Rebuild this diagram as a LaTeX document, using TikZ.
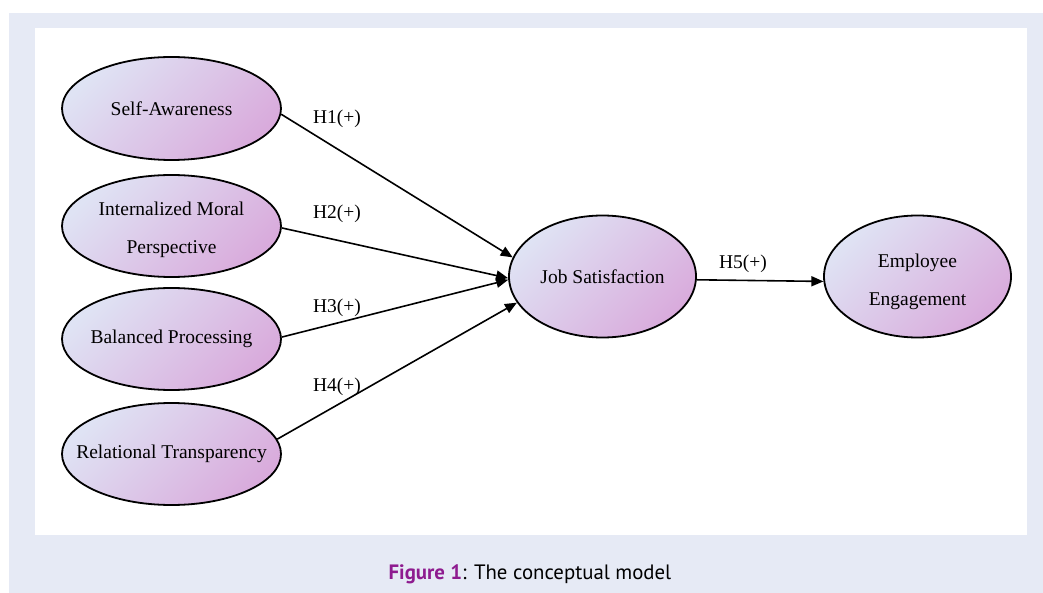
\documentclass[tikz,border=0pt]{standalone}
\usepackage{fontspec}
\setmainfont{Liberation Serif}
\newfontfamily\capfont{PT Sans}
\usetikzlibrary{shapes.geometric,arrows.meta}
\definecolor{outerbg}{HTML}{E6EAF5}
\definecolor{ellA}{HTML}{DFE3F4}
\definecolor{ellB}{HTML}{D9ABDC}
\definecolor{figpurple}{HTML}{8E1B8F}
\tikzset{
  construct/.style={ellipse, draw=black, line width=1.8pt, inner sep=0pt,
    top color=ellA, bottom color=ellB, shading angle=45},
  ctext/.style={align=center, font=\fontsize{19.5}{38}\selectfont, text=black, inner sep=0pt},
  path/.style={line width=1.6pt, -{Triangle[length=12pt,width=10pt]}},
  hlabel/.style={font=\fontsize{19.5}{22}\selectfont, inner sep=0pt}
}
\begin{document}
\begin{tikzpicture}[x=1pt,y=-1pt]
\useasboundingbox (0,0) rectangle (1043,593);
\fill[white] (0,0) rectangle (1043,593);
\fill[outerbg] (9,13) rectangle (1043,593);
\fill[white] (35,28) rectangle (1027,535);

\node[construct, minimum width=219pt, minimum height=103pt,
  label={[ctext]center:Self-Awareness}] (SA) at (171.5,108.5) {};
\node[construct, minimum width=219pt, minimum height=102pt,
  label={[ctext, yshift=-4pt]center:Internalized Moral\\Perspective}] (IMP) at (171.5,226) {};
\node[construct, minimum width=219pt, minimum height=102pt,
  label={[ctext]center:Balanced Processing}] (BP) at (171.5,339) {};
\node[construct, minimum width=219pt, minimum height=102pt,
  label={[ctext]center:Relational Transparency}] (RT) at (171.5,454) {};
\node[construct, minimum width=187pt, minimum height=122pt,
  label={[ctext]center:Job Satisfaction}] (JS) at (602.5,276.5) {};
\node[construct, minimum width=187pt, minimum height=122pt,
  label={[ctext, yshift=-5pt]center:Employee\\Engagement}] (EE) at (917.5,276.5) {};

\draw[path] (SA.-3) -- (JS.168);
\draw[path] (IMP.-1) -- (JS.181);
\draw[path] (BP.1) -- (JS.182);
\draw[path] (RT.8) -- (JS.197);
\draw[path] (JS.-2.76) -- (EE.-177.24);

\node[hlabel] (L1) at (337,119) {H1(+)};
\node[hlabel] (L2) at (337,214) {H2(+)};
\node[hlabel] (L3) at (337,308) {H3(+)};
\node[hlabel] (L4) at (337,387) {H4(+)};
\node[hlabel] (L5) at (743,264) {H5(+)};

\node[font=\capfont\fontsize{20.8}{24}\selectfont, anchor=base] (cap) at (530,579)
  {\textcolor{figpurple}{\bfseries Figure 1}: The conceptual model};
\end{tikzpicture}
\end{document}
